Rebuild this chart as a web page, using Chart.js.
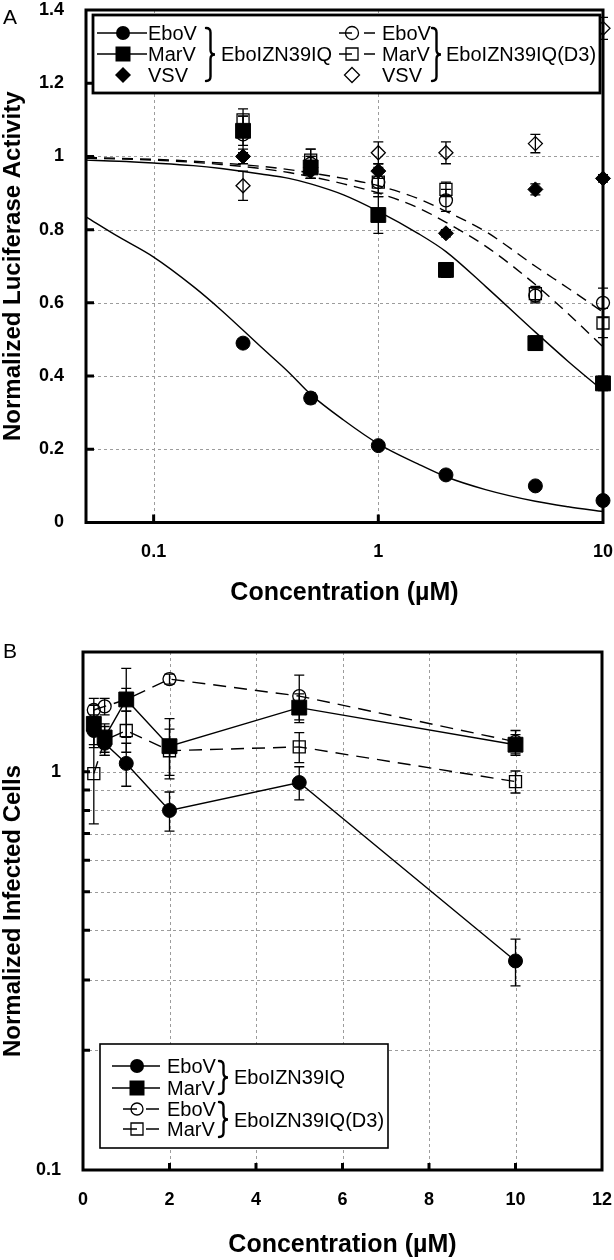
<!DOCTYPE html>
<html>
<head>
<meta charset="utf-8">
<script src="https://cdn.jsdelivr.net/npm/chart.js@4.4.0/dist/chart.umd.min.js"></script>
<style>
html,body{margin:0;padding:0;background:#fff;}
#wrap{position:relative;width:614px;height:1260px;overflow:hidden;}
canvas{position:absolute;left:0;}
.pl{position:absolute;left:3px;font:21px 'Liberation Sans',Arial,sans-serif;color:#000;line-height:21px;}
</style>
</head>
<body>
<div id="wrap">
  <canvas id="ca" width="614" height="620" style="top:0;width:614px;height:620px"></canvas>
  <canvas id="cb" width="614" height="640" style="top:620px;width:614px;height:640px"></canvas>
  <div class="pl" style="top:6px">A</div>
  <div class="pl" style="top:640px">B</div>
</div>
<script>
// ---------- names ----------
const VIRUSES = ['EboV', 'MarV', 'VSV'];
const PEPTIDES = ['EboIZN39IQ', 'EboIZN39IQ(D3)'];

// ---------- Panel A : luciferase (log x) ----------
const A_X = [0.25, 0.5, 1, 2, 5, 10];
const A_EBOV     = [0.49, 0.34, 0.21, 0.13, 0.10, 0.06];
const A_MARV     = [1.07, 0.97, 0.84, 0.69, 0.49, 0.38];
const A_VSV      = [1.00, 0.96, 0.96, 0.79, 0.91, 0.94];
const A_EBOV_D3  = [1.06, 0.98, 0.93, 0.88, 0.62, 0.60];
const A_MARV_D3  = [1.10, 0.99, 0.93, 0.91, 0.625, 0.545];
const A_VSV_D3   = [0.92, 0.97, 1.01, 1.01, 1.035, 1.35];
const A_EBOV_ERR    = [0.01, 0.015, 0.01, 0.01, 0.008, 0.008];
const A_MARV_ERR    = [0.04, 0.03, 0.05, 0.02, 0.02, 0.02];
const A_VSV_ERR     = [0.02, 0.02, 0.02, 0.01, 0.015, 0.01];
const A_EBOV_D3_ERR = [0.05, 0.04, 0.04, 0.03, 0.02, 0.04];
const A_MARV_D3_ERR = [0.03, 0.03, 0.03, 0.02, 0.02, 0.04];
const A_VSV_D3_ERR  = [0.04, 0.03, 0.03, 0.03, 0.025, 0.03];
// fitted curves
const A_FIT_X       = [0.05, 0.07, 0.1, 0.15, 0.2, 0.3, 0.4, 0.5, 0.7, 1, 1.5, 2, 3, 5, 7, 10];
const A_FIT_EBOV    = [0.835, 0.78, 0.725, 0.645, 0.58, 0.48, 0.41, 0.35, 0.28, 0.215, 0.16, 0.125, 0.09, 0.058, 0.043, 0.03];
const A_FIT_MARV    = [0.99, 0.987, 0.982, 0.975, 0.967, 0.952, 0.94, 0.925, 0.895, 0.85, 0.79, 0.74, 0.645, 0.52, 0.44, 0.36];
const A_FIT_EBOV_D3 = [0.997, 0.995, 0.992, 0.987, 0.982, 0.973, 0.964, 0.955, 0.94, 0.92, 0.885, 0.85, 0.795, 0.70, 0.64, 0.575];
const A_FIT_MARV_D3 = [0.995, 0.993, 0.99, 0.984, 0.978, 0.967, 0.956, 0.945, 0.925, 0.90, 0.86, 0.82, 0.755, 0.65, 0.57, 0.48];
const A_XTICKS = [0.1, 1, 10];
const A_XLABELS = ['0.1', '1', '10'];
const A_YTICKS = [0, 0.2, 0.4, 0.6, 0.8, 1, 1.2, 1.4];
const A_YLABELS = ['0', '0.2', '0.4', '0.6', '0.8', '1', '1.2', '1.4'];

// ---------- Panel B : infected cells (log y) ----------
const B_X = [0.25, 0.5, 1, 2, 5, 10];
const B_EBOV    = [1.27, 1.18, 1.05, 0.80, 0.94, 0.335];
const B_MARV    = [1.32, 1.22, 1.52, 1.16, 1.45, 1.17];
const B_EBOV_D3 = [1.43, 1.46, 1.52, 1.71, 1.55, 1.19];
const B_MARV_D3 = [0.99, 1.20, 1.27, 1.13, 1.155, 0.945];
const B_EBOV_ERR    = [0.12, 0.08, 0.13, 0.09, 0.09, 0.045];
const B_MARV_ERR    = [0.15, 0.10, 0.30, 0.20, 0.12, 0.07];
const B_EBOV_D3_ERR = [0.10, 0.07, 0.10, 0.05, 0.20, 0.08];
const B_MARV_D3_ERR = [0.25, 0.10, 0.15, 0.15, 0.10, 0.06];
const B_XTICKS = [0, 2, 4, 6, 8, 10, 12];
const B_XLABELS = ['0', '2', '4', '6', '8', '10', '12'];
const B_YTICKS = [0.1, 0.2, 0.3, 0.4, 0.5, 0.6, 0.7, 0.8, 0.9, 1, 2];
const B_YLABELS = ['0.1', '', '', '', '', '', '', '', '', '1', ''];

const X_TITLE = 'Concentration (µM)';
const A_YTITLE = 'Normalized Luciferase Activity';
const B_YTITLE = 'Normalized Infected Cells';

// ---------- helpers ----------
const FONT = "'Liberation Sans', Arial, Helvetica, sans-serif";
const pts = (xs, ys) => xs.map((x, i) => ({x: x, y: ys[i]}));

function marker(ctx, style, x, y, r, filled) {
  ctx.beginPath();
  if (style === 'circle') ctx.arc(x, y, r, 0, Math.PI * 2);
  else if (style === 'rect') ctx.rect(x - r, y - r, 2 * r, 2 * r);
  else { ctx.moveTo(x, y - r); ctx.lineTo(x + r, y); ctx.lineTo(x, y + r); ctx.lineTo(x - r, y); ctx.closePath(); }
  if (filled) { ctx.fillStyle = '#000'; ctx.fill(); }
  else { ctx.strokeStyle = '#000'; ctx.lineWidth = 1.3; ctx.stroke(); }
}
function brace(ctx, x, y0, y1, w) {
  const m = (y0 + y1) / 2, r = w / 2;
  ctx.save();
  ctx.strokeStyle = '#000'; ctx.lineWidth = 2.4; ctx.lineCap = 'round';
  ctx.beginPath();
  ctx.moveTo(x, y0);
  ctx.quadraticCurveTo(x + r, y0, x + r, y0 + r);
  ctx.lineTo(x + r, m - r);
  ctx.quadraticCurveTo(x + r, m, x + w, m);
  ctx.quadraticCurveTo(x + r, m, x + r, m + r);
  ctx.lineTo(x + r, y1 - r);
  ctx.quadraticCurveTo(x + r, y1, x, y1);
  ctx.stroke();
  ctx.restore();
}
function drawLegend(ctx, L) {
  ctx.save();
  ctx.fillStyle = '#fff';
  ctx.fillRect(L.box[0], L.box[1], L.box[2], L.box[3]);
  ctx.strokeStyle = '#000'; ctx.lineWidth = L.boxLine;
  ctx.strokeRect(L.box[0], L.box[1], L.box[2], L.box[3]);
  ctx.font = L.font; ctx.textBaseline = 'middle'; ctx.textAlign = 'left';
  L.rows.forEach(r => {
    ctx.strokeStyle = '#000'; ctx.lineWidth = 1.5; ctx.setLineDash([]);
    ctx.beginPath();
    r.lines.forEach(s => { ctx.moveTo(s[0], r.y); ctx.lineTo(s[1], r.y); });
    ctx.stroke();
    marker(ctx, r.style, r.mx, r.y, r.r, r.filled);
    ctx.fillStyle = '#000';
    ctx.fillText(r.text, r.tx, r.y + 1);
  });
  L.braces.forEach(b => {
    brace(ctx, b.x, b.y0, b.y1, b.w);
    ctx.fillStyle = '#000';
    ctx.fillText(b.text, b.tx, b.ty);
  });
  ctx.restore();
}

const decor = {
  id: 'decor',
  beforeDatasetsDraw(chart, args, o) {
    const ctx = chart.ctx, ca = chart.chartArea, xs = chart.scales.x, ys = chart.scales.y;
    ctx.save();
    ctx.strokeStyle = '#9c9c9c'; ctx.lineWidth = 1; ctx.setLineDash([3, 3]);
    ctx.beginPath();
    o.xGrid.forEach(v => { const p = Math.round(xs.getPixelForValue(v)) + 0.5; ctx.moveTo(p, ca.top); ctx.lineTo(p, ca.bottom); });
    o.yGrid.forEach(v => { const p = Math.round(ys.getPixelForValue(v)) + 0.5; ctx.moveTo(ca.left, p); ctx.lineTo(ca.right, p); });
    ctx.stroke();
    ctx.setLineDash([]);
    ctx.strokeStyle = '#000'; ctx.lineWidth = 1.3;
    chart.data.datasets.forEach(ds => {
      if (!ds.errors) return;
      ds.data.forEach((pt, i) => {
        const e = ds.errors[i]; if (!e) return;
        const px = xs.getPixelForValue(pt.x);
        const yt = ys.getPixelForValue(pt.y + e);
        const yb = ys.getPixelForValue(pt.y - e);
        const c = o.cap;
        ctx.beginPath();
        ctx.moveTo(px, yt); ctx.lineTo(px, yb);
        ctx.moveTo(px - c, yt); ctx.lineTo(px + c, yt);
        ctx.moveTo(px - c, yb); ctx.lineTo(px + c, yb);
        ctx.stroke();
      });
    });
    ctx.restore();
  },
  afterDraw(chart, args, o) {
    const ctx = chart.ctx, ca = chart.chartArea, xs = chart.scales.x, ys = chart.scales.y;
    ctx.save();
    ctx.strokeStyle = '#000'; ctx.lineWidth = 3; ctx.setLineDash([]);
    ctx.beginPath();
    o.xTickMarks.forEach(v => { const p = xs.getPixelForValue(v); ctx.moveTo(p, ca.bottom); ctx.lineTo(p, ca.bottom - o.tickLen); });
    o.yTickMarks.forEach(v => { const p = ys.getPixelForValue(v); ctx.moveTo(ca.left, p); ctx.lineTo(ca.left + o.tickLen, p); });
    ctx.stroke();
    ctx.strokeRect(ca.left, ca.top, ca.right - ca.left, ca.bottom - ca.top);
    drawLegend(ctx, o.legend);
    ctx.restore();
  }
};

function pointSet(label, xs, ys, errs, style, radius, filled) {
  return {
    label: label, data: pts(xs, ys), errors: errs, showLine: false,
    pointStyle: style, pointRadius: radius, pointHoverRadius: radius,
    backgroundColor: filled ? '#000' : 'rgba(0,0,0,0)', borderColor: '#000',
    pointBorderWidth: filled ? 1 : 1.3, clip: false
  };
}
function fitSet(label, xs, ys, dashed) {
  return {
    label: label, data: pts(xs, ys), showLine: true, pointRadius: 0,
    borderColor: '#000', borderWidth: 1.4, borderDash: dashed ? [11, 7] : [],
    cubicInterpolationMode: 'monotone', clip: false
  };
}
function lineSet(label, xs, ys, errs, style, radius, filled, dashed) {
  return {
    label: label, data: pts(xs, ys), errors: errs, showLine: true,
    pointStyle: style, pointRadius: radius, pointHoverRadius: radius,
    backgroundColor: filled ? '#000' : 'rgba(0,0,0,0)', borderColor: '#000',
    pointBackgroundColor: filled ? '#000' : 'rgba(0,0,0,0)', pointBorderColor: '#000',
    pointBorderWidth: filled ? 1 : 1.3, borderWidth: 1.4,
    borderDash: dashed ? [13, 8] : [], tension: 0, clip: false
  };
}
function noPad(s) { s.paddingTop = 0; s.paddingBottom = 0; s.paddingLeft = 0; s.paddingRight = 0; }

const tickFont = {family: FONT, size: 18, weight: 'bold', lineHeight: 1};
const titleFont = {family: FONT, size: 24, weight: 'bold', lineHeight: 1.1};
const xTitleFont = {family: FONT, size: 25, weight: 'bold', lineHeight: 1.1};

// ---------- Chart A ----------
new Chart(document.getElementById('ca'), {
  type: 'scatter',
  data: {
    datasets: [
      fitSet('fit ' + VIRUSES[0] + ' ' + PEPTIDES[0], A_FIT_X, A_FIT_EBOV, false),
      fitSet('fit ' + VIRUSES[1] + ' ' + PEPTIDES[0], A_FIT_X, A_FIT_MARV, false),
      fitSet('fit ' + VIRUSES[0] + ' ' + PEPTIDES[1], A_FIT_X, A_FIT_EBOV_D3, true),
      fitSet('fit ' + VIRUSES[1] + ' ' + PEPTIDES[1], A_FIT_X, A_FIT_MARV_D3, true),
      pointSet(VIRUSES[2] + ' ' + PEPTIDES[1], A_X, A_VSV_D3, A_VSV_D3_ERR, 'rectRot', 7, false),
      pointSet(VIRUSES[0] + ' ' + PEPTIDES[1], A_X, A_EBOV_D3, A_EBOV_D3_ERR, 'circle', 6.5, false),
      pointSet(VIRUSES[1] + ' ' + PEPTIDES[1], A_X, A_MARV_D3, A_MARV_D3_ERR, 'rect', 8.5, false),
      pointSet(VIRUSES[2] + ' ' + PEPTIDES[0], A_X, A_VSV, A_VSV_ERR, 'rectRot', 7.5, true),
      pointSet(VIRUSES[1] + ' ' + PEPTIDES[0], A_X, A_MARV, A_MARV_ERR, 'rect', 10.5, true),
      pointSet(VIRUSES[0] + ' ' + PEPTIDES[0], A_X, A_EBOV, A_EBOV_ERR, 'circle', 7, true)
    ]
  },
  options: {
    responsive: false, animation: false, devicePixelRatio: 1, events: [],
    layout: {autoPadding: false, padding: {top: 10, right: 11, bottom: 0, left: 0}},
    plugins: {
      legend: {display: false}, tooltip: {enabled: false},
      decor: {
        xGrid: [0.1, 1], yGrid: [0.2, 0.4, 0.6, 0.8, 1, 1.2],
        xTickMarks: [0.1, 1], yTickMarks: [0.2, 0.4, 0.6, 0.8, 1, 1.2],
        tickLen: 8, cap: 5,
        legend: {
          box: [93, 15, 507, 78], boxLine: 2.8, font: '20px ' + FONT,
          rows: [
            {y: 33, lines: [[97, 147]], style: 'circle', r: 7, filled: true, mx: 123, text: VIRUSES[0], tx: 148},
            {y: 54, lines: [[97, 147]], style: 'rect', r: 7.5, filled: true, mx: 123, text: VIRUSES[1], tx: 148},
            {y: 75, lines: [], style: 'diamond', r: 8, filled: true, mx: 123, text: VIRUSES[2], tx: 148},
            {y: 33, lines: [[339, 352], [364, 375]], style: 'circle', r: 6.5, filled: false, mx: 352, text: VIRUSES[0], tx: 382},
            {y: 54, lines: [[339, 352], [364, 375]], style: 'rect', r: 6, filled: false, mx: 352, text: VIRUSES[1], tx: 382},
            {y: 75, lines: [], style: 'diamond', r: 7.5, filled: false, mx: 352, text: VIRUSES[2], tx: 382}
          ],
          braces: [
            {x: 206, y0: 28, y1: 81, w: 9, text: PEPTIDES[0], tx: 221, ty: 55},
            {x: 432, y0: 28, y1: 81, w: 9, text: PEPTIDES[1], tx: 446, ty: 55}
          ]
        }
      }
    },
    scales: {
      x: {
        type: 'logarithmic', min: 0.05, max: 10,
        afterBuildTicks: s => { s.ticks = A_XTICKS.map(v => ({value: v})); },
        afterFit: s => { s.height = 97.5; noPad(s); },
        grid: {display: false}, border: {display: false},
        ticks: {autoSkip: false, maxRotation: 0, padding: 13, color: '#000', font: tickFont,
                callback: (v, i) => A_XLABELS[i]},
        title: {display: true, text: X_TITLE, color: '#000', font: xTitleFont, padding: {top: 0, bottom: 13}}
      },
      y: {
        type: 'linear', min: 0, max: 1.4,
        afterBuildTicks: s => { s.ticks = A_YTICKS.map(v => ({value: v})); },
        afterFit: s => { s.width = 86; noPad(s); },
        grid: {display: false}, border: {display: false},
        ticks: {autoSkip: false, padding: 14, color: '#000', font: tickFont,
                callback: (v, i) => A_YLABELS[i]},
        title: {display: true, text: A_YTITLE, color: '#000', font: titleFont, padding: {top: 0, bottom: 0}}
      }
    }
  },
  plugins: [decor]
});

// ---------- Chart B ----------
new Chart(document.getElementById('cb'), {
  type: 'scatter',
  data: {
    datasets: [
      lineSet(VIRUSES[1] + ' ' + PEPTIDES[1], B_X, B_MARV_D3, B_MARV_D3_ERR, 'rect', 8.5, false, true),
      lineSet(VIRUSES[0] + ' ' + PEPTIDES[1], B_X, B_EBOV_D3, B_EBOV_D3_ERR, 'circle', 6.5, false, true),
      lineSet(VIRUSES[0] + ' ' + PEPTIDES[0], B_X, B_EBOV, B_EBOV_ERR, 'circle', 7, true, false),
      lineSet(VIRUSES[1] + ' ' + PEPTIDES[0], B_X, B_MARV, B_MARV_ERR, 'rect', 10.5, true, false)
    ]
  },
  options: {
    responsive: false, animation: false, devicePixelRatio: 1, events: [],
    layout: {autoPadding: false, padding: {top: 32, right: 12, bottom: 0, left: 0}},
    plugins: {
      legend: {display: false}, tooltip: {enabled: false},
      decor: {
        xGrid: [2, 4, 6, 8, 10], yGrid: [0.2, 0.3, 0.4, 0.5, 0.6, 0.7, 0.8, 0.9, 1],
        xTickMarks: [2, 4, 6, 8, 10], yTickMarks: [0.2, 0.3, 0.4, 0.5, 0.6, 0.7, 0.8, 0.9, 1],
        tickLen: 7, cap: 5,
        legend: {
          box: [100, 424, 288, 104], boxLine: 1.6, font: '20px ' + FONT,
          rows: [
            {y: 446, lines: [[112, 160]], style: 'circle', r: 7, filled: true, mx: 137, text: VIRUSES[0], tx: 167},
            {y: 468, lines: [[112, 160]], style: 'rect', r: 7.5, filled: true, mx: 137, text: VIRUSES[1], tx: 167},
            {y: 489, lines: [[123, 137], [146, 159]], style: 'circle', r: 6, filled: false, mx: 137, text: VIRUSES[0], tx: 167},
            {y: 509, lines: [[123, 137], [146, 159]], style: 'rect', r: 6, filled: false, mx: 137, text: VIRUSES[1], tx: 167}
          ],
          braces: [
            {x: 219, y0: 441, y1: 474, w: 9, text: PEPTIDES[0], tx: 234, ty: 458},
            {x: 219, y0: 482, y1: 517, w: 9, text: PEPTIDES[1], tx: 234, ty: 501}
          ]
        }
      }
    },
    scales: {
      x: {
        type: 'linear', min: 0, max: 12,
        afterBuildTicks: s => { s.ticks = B_XTICKS.map(v => ({value: v})); },
        afterFit: s => { s.height = 90; noPad(s); },
        grid: {display: false}, border: {display: false},
        ticks: {autoSkip: false, maxRotation: 0, padding: 13, color: '#000', font: tickFont,
                callback: (v, i) => B_XLABELS[i]},
        title: {display: true, text: X_TITLE, color: '#000', font: xTitleFont, padding: {top: 0, bottom: 1}}
      },
      y: {
        type: 'logarithmic', min: 0.1, max: 2,
        afterBuildTicks: s => { s.ticks = B_YTICKS.map(v => ({value: v})); },
        afterFit: s => { s.width = 83; noPad(s); },
        grid: {display: false}, border: {display: false},
        ticks: {autoSkip: false, padding: 14, color: '#000', font: tickFont,
                callback: (v, i) => B_YLABELS[i]},
        title: {display: true, text: B_YTITLE, color: '#000', font: titleFont, padding: {top: 0, bottom: 0}}
      }
    }
  },
  plugins: [decor]
});
</script>
</body>
</html>
